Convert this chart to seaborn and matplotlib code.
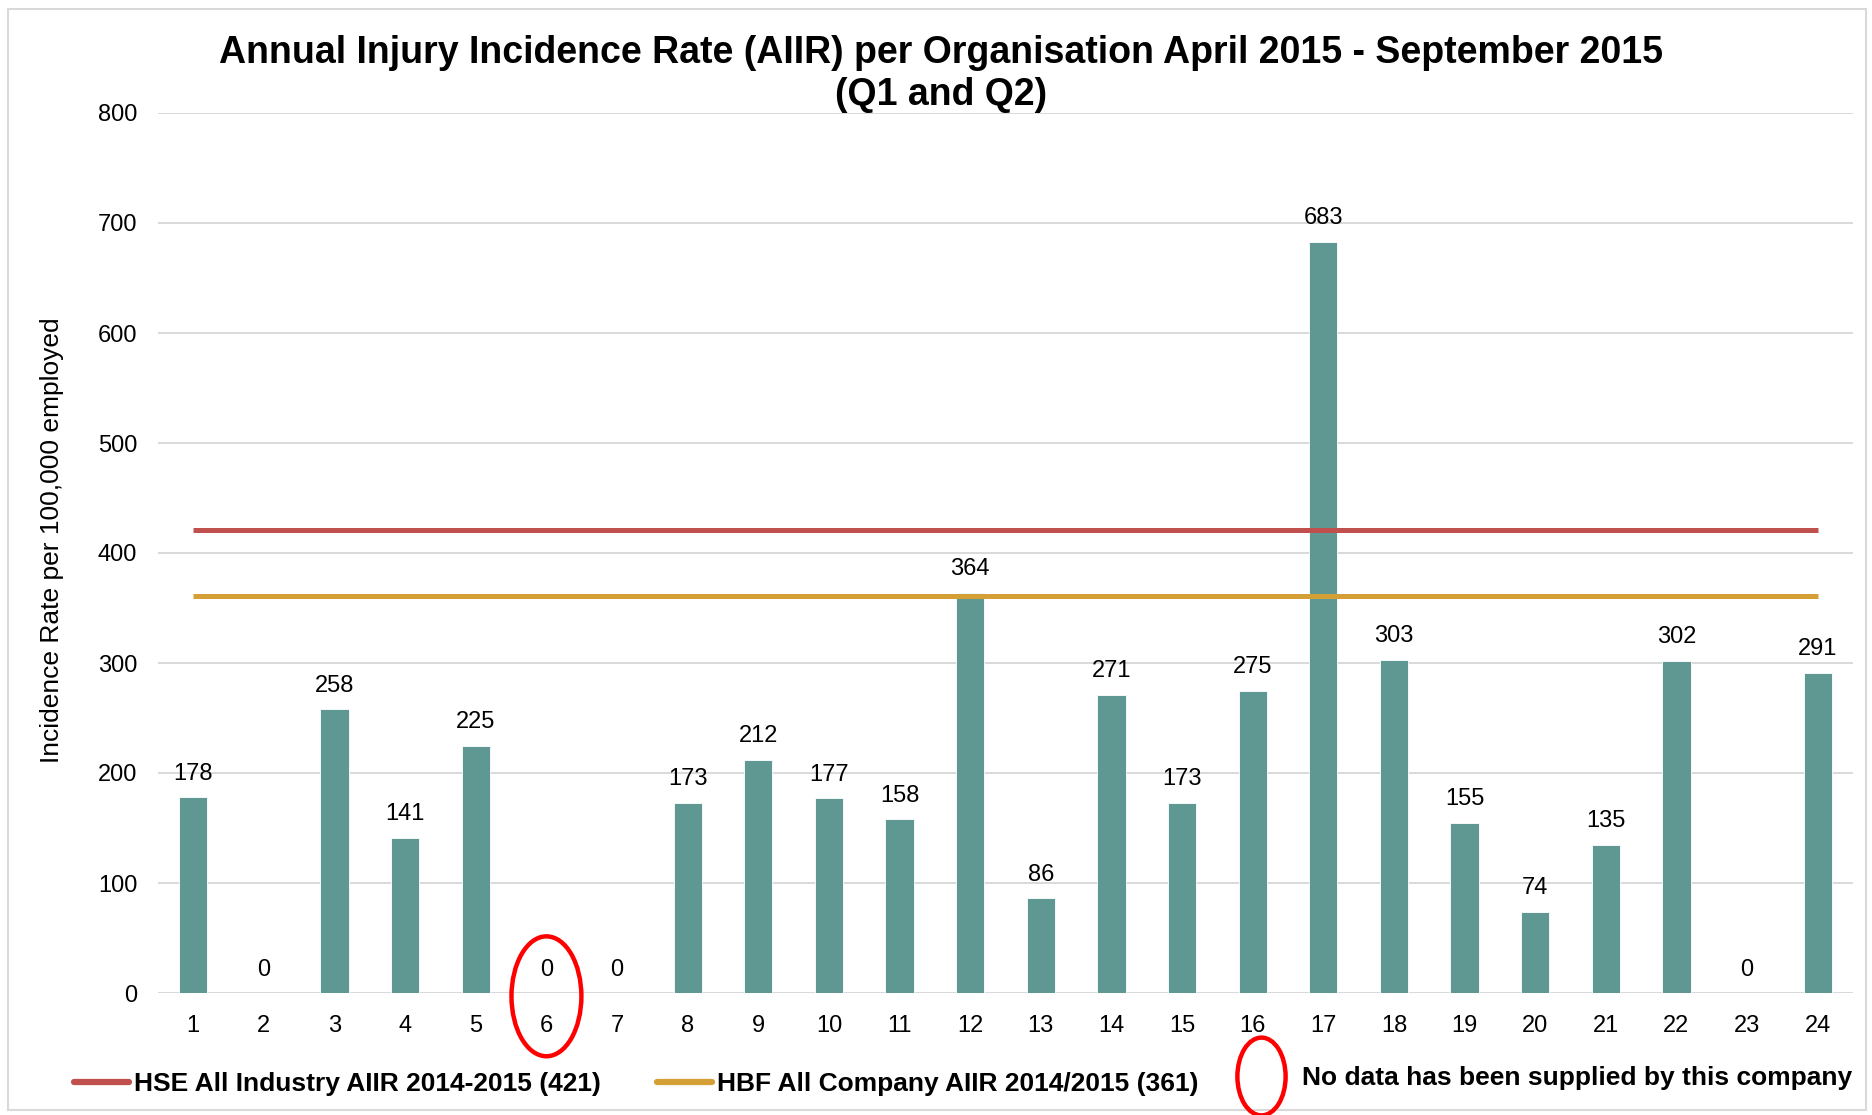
import numpy as np
import pandas as pd
import matplotlib
matplotlib.use("Agg")
import matplotlib.pyplot as plt
import seaborn as sns
from matplotlib.patches import Ellipse, Rectangle
from matplotlib.lines import Line2D
from matplotlib.path import Path

# ---------------- data ----------------
organisations = [str(i) for i in range(1, 25)]
aiir_values = [178, 0, 258, 141, 225, 0, 0, 173, 212, 177, 158, 364,
               86, 271, 173, 275, 683, 303, 155, 74, 135, 302, 0, 291]
hse_all_industry = 421
hbf_all_company = 361
no_data_org = "6"

title_line1 = "Annual Injury Incidence Rate (AIIR) per Organisation April 2015 - September 2015"
title_line2 = "(Q1 and Q2)"
y_label = "Incidence Rate per 100,000 employed"
hse_label = "HSE All Industry AIIR 2014-2015 (421)"
hbf_label = "HBF All Company AIIR 2014/2015 (361)"
nodata_label = "No data has been supplied by this company"

# ---------------- style ----------------
sns.set_theme(style="white")
plt.rcParams["font.family"] = ["Liberation Sans", "DejaVu Sans"]
plt.rcParams["text.color"] = "black"
plt.rcParams["axes.labelcolor"] = "black"

BAR = "#5F9893"
RED = "#C0504D"
GOLD = "#D4A035"
GRID = "#D9D9D9"

W, H = 1872, 1115
fig = plt.figure(figsize=(W / 100, H / 100), dpi=100)
ax_left, ax_right, ax_top, ax_bot = 158, 1853, 113, 993
ax = fig.add_axes([ax_left / W, 1 - ax_bot / H, (ax_right - ax_left) / W, (ax_bot - ax_top) / H])

df = pd.DataFrame({"org": organisations, "rate": aiir_values})
sns.barplot(data=df, x="org", y="rate", order=organisations, color=BAR,
            saturation=1, width=0.4, edgecolor="white", linewidth=0.6, ax=ax, zorder=2)

ax.bar_label(ax.containers[0], labels=[str(v) for v in aiir_values],
             padding=9, fontsize=17, color="black")

# reference lines
n = len(organisations)
ax.plot([0, n - 1], [hse_all_industry] * 2, color=RED, lw=3.6,
        solid_capstyle="butt", zorder=4)
ax.plot([0, n - 1], [hbf_all_company] * 2, color=GOLD, lw=3.6,
        solid_capstyle="butt", zorder=4)

# no-data ellipse
idx = organisations.index(no_data_org)
ax.add_patch(Ellipse((idx, -3), width=0.99, height=109, fill=False,
                     edgecolor="red", lw=3.2, clip_on=False, zorder=6))

ax.set_xlim(-0.5, n - 0.5)
ax.set_ylim(0, 800)
ax.set_yticks(range(0, 801, 100))
ax.yaxis.grid(True, color=GRID, lw=1.4)
ax.xaxis.grid(False)
ax.set_axisbelow(True)
for s in ax.spines.values():
    s.set_visible(False)
ax.tick_params(axis="both", length=0, labelsize=17, colors="black")
ax.tick_params(axis="y", pad=15)
ax.tick_params(axis="x", pad=15.5)
ax.set_xlabel("")
ax.set_ylabel(y_label, fontsize=19, color="black")
ax.yaxis.set_label_coords((64 - ax_left) / (ax_right - ax_left),
                          (ax_bot - 540) / (ax_bot - ax_top))

# title
fig.text(941 / W, 1 - 53 / H, title_line1, ha="center", va="center",
         fontsize=27, fontweight="bold", color="black")
fig.text(941 / W, 1 - 95 / H, title_line2, ha="center", va="center",
         fontsize=27, fontweight="bold", color="black")

# legends
prop = {"weight": "bold", "size": 19}
h1 = Line2D([], [], color=RED, lw=4.5)
h2 = Line2D([], [], color=GOLD, lw=4.5)
circ = Path.unit_circle()
ell_path = Path(circ.vertices * np.array([0.62, 1.0]), circ.codes)
h3 = Line2D([], [], ls="none", marker=ell_path, markersize=56,
            markerfacecolor="none", markeredgecolor="red", markeredgewidth=3.2)

def add_leg(handle, label, x_px, y_px, hl, tp):
    leg = fig.legend([handle], [label], loc="center left",
                     bbox_to_anchor=(x_px / W, 1 - y_px / H), frameon=False,
                     prop=prop, handlelength=hl, handletextpad=tp,
                     borderpad=0, borderaxespad=0, labelcolor="black")
    return leg

add_leg(h1, hse_label, 74, 1084, 2.08, 0.2)
add_leg(h2, hbf_label, 657, 1084, 2.08, 0.2)
add_leg(h3, nodata_label, 1232, 1078, 2.2, 0.45)

# outer border
fig.patches.append(Rectangle((8 / W, 5 / H), 1 - 14 / W, 1 - 14 / H,
                             transform=fig.transFigure, fill=False,
                             edgecolor=GRID, lw=1.5))

fig.savefig("out.png", dpi=100)
